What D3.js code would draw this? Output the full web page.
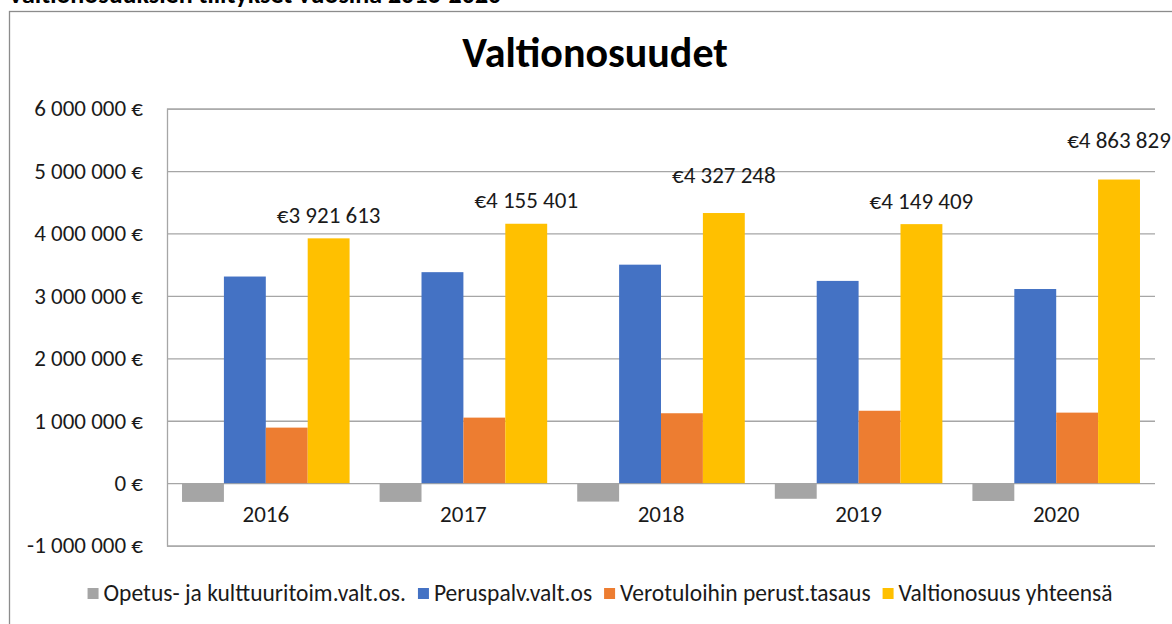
<!DOCTYPE html>
<html>
<head>
<meta charset="utf-8">
<script src="https://cdn.jsdelivr.net/npm/d3@7"></script>
<style>
  body { margin: 0; background: #fff; }
  svg { display: block; font-family: Carlito, Lato, "Open Sans", sans-serif; }
</style>
</head>
<body>
<script>
// data
var years = ['2016', '2017', '2018', '2019', '2020'];
var seriesNames = ['Opetus- ja kulttuuritoim.valt.os.', 'Peruspalv.valt.os', 'Verotuloihin perust.tasaus', 'Valtionosuus yhteensä'];
var opetus = [-300000, -300000, -295000, -250000, -285000];
var peruspalv = [3310000, 3380000, 3500000, 3240000, 3110000];
var verotulo = [890000, 1050000, 1120000, 1160000, 1130000];
var yhteensa = [3921613, 4155401, 4327248, 4149409, 4863829];
var yTicks = [-1000000, 0, 1000000, 2000000, 3000000, 4000000, 5000000, 6000000];

var colors = ['#A5A5A5', '#4472C4', '#ED7D31', '#FFC000'];
var labelLift = [15, 16, 30, 15, 32];   // excel put the labels a bit unevenly

var width = 1172, height = 624;
var plot = { left: 167, right: 1155, top: 108.6, bottom: 545.6 };
var fontFam = 'Carlito, Lato, "Open Sans", sans-serif';

var fi = d3.formatLocale({ decimal: ',', thousands: ' ', grouping: [3], currency: ['€', ''], minus: '-' });
var num = fi.format(',');

var svg = d3.select('body').append('svg')
    .attr('width', width)
    .attr('height', height);

// sheet heading, mostly cut off at the top (as in the screenshot)
svg.append('text')
    .attr('x', 8).attr('y', 3)
    .attr('font-size', 26).attr('font-weight', 'bold')
    .text('Valtionosuuksien tilitykset vuosina 2016-2020');

// chart frame
svg.append('rect')
    .attr('x', 9.5).attr('y', 11.5)
    .attr('width', 1200).attr('height', 700)
    .attr('fill', '#fff').attr('stroke', '#8c8c8c').attr('stroke-width', 1.3);

svg.append('text')
    .attr('x', 595).attr('y', 67)
    .attr('text-anchor', 'middle')
    .attr('font-size', 42).attr('font-weight', 'bold')
    .text('Valtionosuudet');

var x = d3.scaleBand().domain(years).range([plot.left, plot.right])
    .paddingInner(0.152).paddingOuter(0.076);
var xs = d3.scaleBand().domain(d3.range(4)).range([0, x.bandwidth()]);
var y = d3.scaleLinear().domain([-1000000, 6000000]).range([plot.bottom, plot.top]);

// y axis + gridlines
var yAxis = d3.axisLeft(y).tickValues(yTicks)
    .tickSize(-(plot.right - plot.left))
    .tickPadding(24)
    .tickFormat(function(d) { return num(d) + ' €'; });
var gy = svg.append('g').attr('transform', `translate(${plot.left},0)`).call(yAxis);
gy.select('.domain').attr('stroke', '#a6a6a6').attr('stroke-width', 1.3);
gy.selectAll('.tick line').attr('stroke', '#a6a6a6').attr('stroke-width', 1.3);
gy.selectAll('.tick text').attr('font-size', 23).attr('fill', '#1a1a1a')
    .attr('font-family', fontFam);

// bars
var table = years.map(function(yr, i) {
    return [opetus[i], peruspalv[i], verotulo[i], yhteensa[i]];
});
var groups = svg.selectAll('.grp')
    .data(table)
    .enter().append('g')
    .attr('class', 'grp')
    .attr('transform', function(d, i) { return `translate(${x(years[i])},0)`; });

groups.selectAll('rect')
    .data(function(d) { return d; })
    .enter().append('rect')
    .attr('x', function(d, j) { return xs(j); })
    .attr('width', xs.bandwidth())
    .attr('y', function(d) { return y(Math.max(0, d)); })
    .attr('height', function(d) { return Math.abs(y(d) - y(0)); })
    .attr('fill', function(d, j) { return colors[j]; });

// total labels
svg.selectAll('.lbl')
    .data(yhteensa)
    .enter().append('text')
    .attr('class', 'lbl')
    .attr('x', function(d, i) { return x(years[i]) + xs(3) + xs.bandwidth() / 2; })
    .attr('y', function(d, i) { return y(d) - labelLift[i]; })
    .attr('text-anchor', 'middle')
    .attr('font-size', 23).attr('fill', '#1a1a1a')
    .text(function(d) { return '€' + num(d); });

// x axis labels
var xAxis = d3.axisBottom(x).tickSize(0).tickPadding(23);
var gx = svg.append('g').attr('transform', `translate(0,${y(0)})`).call(xAxis);
gx.select('.domain').remove();
gx.selectAll('.tick text').attr('font-size', 23).attr('fill', '#1a1a1a')
    .attr('font-family', fontFam);

// legend
var leg = svg.append('g');
var lx = 0;
seriesNames.forEach(function(name, i) {
    var it = leg.append('g').attr('transform', `translate(${lx},0)`);
    it.append('rect').attr('x', 0).attr('y', 588).attr('width', 11).attr('height', 11).attr('fill', colors[i]);
    var t = it.append('text').attr('x', 16).attr('y', 601)
        .attr('font-size', 23.5).attr('fill', '#1a1a1a').text(name);
    lx += 16 + t.node().getComputedTextLength() + 12;
});
leg.attr('transform', `translate(${600 - (lx - 12) / 2},0)`);
</script>
</body>
</html>
